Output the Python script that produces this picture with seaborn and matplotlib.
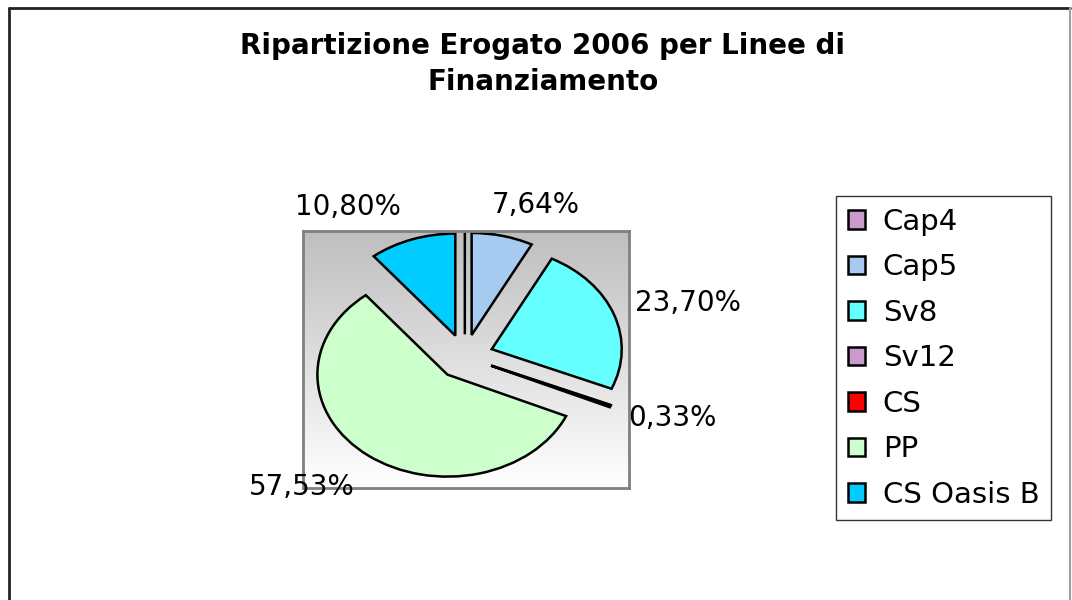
import numpy as np
import matplotlib
matplotlib.use("Agg")
import matplotlib.pyplot as plt
from matplotlib.colors import LinearSegmentedColormap
from matplotlib.lines import Line2D
import seaborn as sns

# ---- data ----
categories = ["Cap4", "Cap5", "Sv8", "Sv12", "CS", "PP", "CS Oasis B"]
values = [0.0, 7.64, 23.70, 0.0, 0.33, 57.53, 10.80]
colors = ["#CC99CC", "#A6CAF0", "#66FFFF", "#CC99CC", "#FF0000", "#CCFFCC", "#00CCFF"]
title = "Ripartizione Erogato 2006 per Linee di\nFinanziamento"

sns.set_theme(style="white")
plt.rcParams["font.family"] = ["DejaVu Sans"]
plt.rcParams["text.color"] = "black"

W, H = 1072, 600
fig = plt.figure(figsize=(W / 100, H / 100), dpi=100)
fig.patch.set_facecolor("white")

# plot area (gradient background)
x0, y0, x1, y1 = 303, 231, 629, 488
ax = fig.add_axes([x0 / W, 1 - y1 / H, (x1 - x0) / W, (y1 - y0) / H])

explode = [0.22] * len(values)
wedges, _ = ax.pie(values, colors=colors, explode=explode, startangle=90,
                   counterclock=False, normalize=True,
                   wedgeprops=dict(edgecolor="black", linewidth=1.8))
ax.set_aspect("auto")
xlim = (-1.245, 1.263)
ylim = (-1.286, 1.233)

cmap = LinearSegmentedColormap.from_list("bg", ["#FFFFFF", "#BEBEBE"])
grad = np.linspace(0, 1, 256).reshape(-1, 1)
ax.imshow(grad, extent=[xlim[0], xlim[1], ylim[0], ylim[1]], aspect="auto",
          cmap=cmap, zorder=0, origin="lower")
ax.set_xlim(*xlim)
ax.set_ylim(*ylim)
ax.set_frame_on(True)
for s in ax.spines.values():
    s.set_color("#808080")
    s.set_linewidth(2)
ax.set_xticks([])
ax.set_yticks([])

# percentage labels (placed outside each exploded slice)
label_pos = {"Cap5": (0.548, 1.488), "Sv8": (1.713, 0.532), "CS": (1.60, -0.595),
             "PP": (-1.258, -1.281), "CS Oasis B": (-0.90, 1.464)}
for cat, v in zip(categories, values):
    if v <= 0:
        continue
    lx, ly = label_pos[cat]
    ax.text(lx, ly, f"{v:.2f}".replace(".", ",") + "%", ha="center", va="center",
            fontsize=20, color="black", clip_on=False, zorder=5)

# title
fig.text(543 / W, 1 - 64 / H, title, ha="center", va="center", fontsize=20,
         fontweight="bold", linespacing=1.35, color="black")

# legend
leg = fig.legend(wedges, categories, loc="upper left",
                 bbox_to_anchor=(836 / W, 1 - 196 / H), frameon=True,
                 fancybox=False, edgecolor="black", fontsize=21,
                 handlelength=0.6, handleheight=0.6, handletextpad=0.6,
                 labelspacing=0.6, borderpad=0.4, borderaxespad=0,
                 labelcolor="black")
leg.get_frame().set_linewidth(1.0)

# outer chart border
fig.add_artist(Line2D([9 / W, 9 / W], [0, 1 - 8 / H], color="#222222", lw=2))
fig.add_artist(Line2D([9 / W, 1070 / W], [1 - 8 / H, 1 - 8 / H], color="#222222", lw=2))
fig.add_artist(Line2D([1070 / W, 1070 / W], [0, 1 - 8 / H], color="#A0A0A0", lw=1.5))

fig.savefig("out.png", dpi=100)
